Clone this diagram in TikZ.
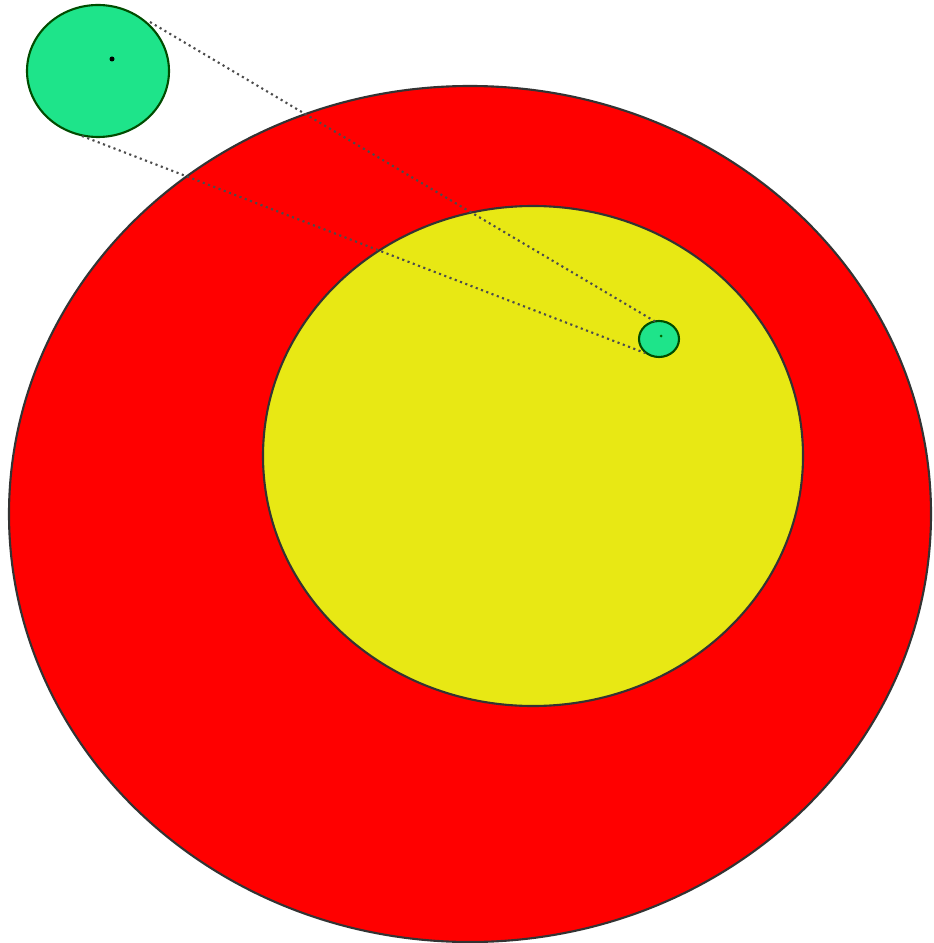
\documentclass[tikz,border=0pt]{standalone}
\begin{document}
\begin{tikzpicture}[x=0.01cm,y=-0.01cm,
  outline/.style={draw=black!80,line width=0.6pt},
  greenfill/.style={outline,fill=mygreen,draw=black!70!green},
  guide/.style={densely dotted,draw=black!70,line width=0.6pt}]
\definecolor{mygreen}{RGB}{30,228,138}
\definecolor{myyellow}{RGB}{232,232,20}
\definecolor{myred}{RGB}{255,0,0}
\useasboundingbox (0,0) rectangle (933,943);
\fill[white] (0,0) rectangle (933,943);
\draw[outline,fill=myred] (470,514) ellipse [x radius=461, y radius=428];
\draw[outline,fill=myyellow] (533,456) ellipse [x radius=270, y radius=250];
\draw[greenfill] (98,71) ellipse [x radius=71, y radius=66];
\draw[greenfill] (659,339) ellipse [x radius=20, y radius=18];
\fill[black] (112,59) circle [radius=2.5];
\fill[black!60!green] (661,336) circle [radius=1.5];
\coordinate (t1) at (150,22);
\coordinate (t2) at (656,322);
\coordinate (b1) at (82,136);
\coordinate (b2) at (645,353);
\draw[guide] (t1) -- (t2);
\draw[guide] (b1) -- (b2);
\end{tikzpicture}
\end{document}
